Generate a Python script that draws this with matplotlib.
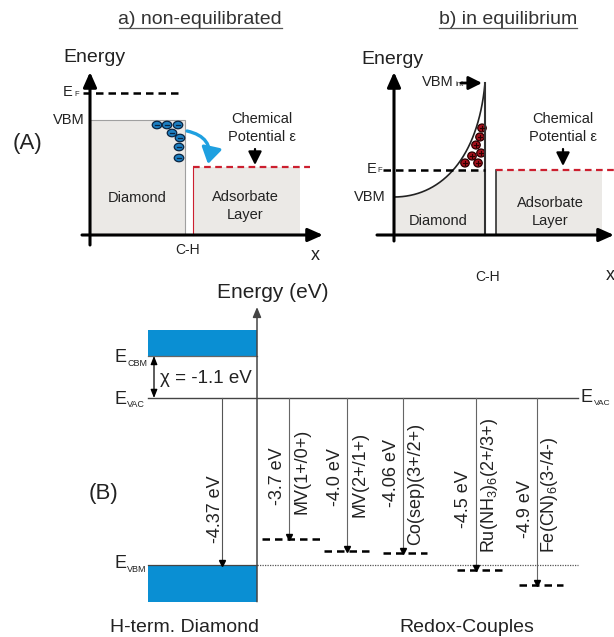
import numpy as np
import matplotlib
matplotlib.use("Agg")
import matplotlib.pyplot as plt
from matplotlib.patches import Rectangle, Ellipse, FancyArrowPatch

plt.rcParams['font.family'] = ['Liberation Sans', 'DejaVu Sans']
plt.rcParams['mathtext.fontset'] = 'custom'
plt.rcParams['mathtext.rm'] = 'Liberation Sans'

# ---- data for panel (B), energies vs vacuum level (eV)
e_vac = 0.0
e_vbm = -4.37
chi = -1.1
e_cbm = -chi
couples = ['MV(1+/0+)', 'MV(2+/1+)', 'Co(sep)(3+/2+)',
           r'Ru(NH$_{3}$)$_{6}$(2+/3+)', r'Fe(CN)$_{6}$(3-/4-)']
redox_ev = [-3.7, -4.0, -4.06, -4.5, -4.9]
redox_labels = ['-3.7 eV', '-4.0 eV', '-4.06 eV', '-4.5 eV', '-4.9 eV']

# ---- schematic carriers for panel (A) (pixel positions)
electrons_x = [157, 167, 178, 172, 180, 179, 179]
electrons_y = [125, 125, 125, 133, 138, 147, 158]
holes_x = [482, 480, 476, 481, 472, 465, 478]
holes_y = [128, 137, 145, 153, 156, 163, 163]

# layout of panel (B)
redox_x = [289, 347, 403, 476, 537]
level_x0 = [262, 324, 383, 457, 519]
level_x1 = [323, 370, 427, 507, 563]
value_bottom = [-2.80, -2.83, -2.85, -3.40, -3.66]
name_bottom = [-3.04, -3.11, -3.85, -4.06, -4.06]

W, H = 614, 637
TXT = '#222222'
GREY = '#ebe9e6'
BLUE = '#0a8fd3'
RED = '#cc1f2f'

fig = plt.figure(figsize=(W / 100, H / 100), dpi=100)
ax = fig.add_axes([0, 0, 1, 1])
ax.set_xlim(0, W)
ax.set_ylim(H, 0)
ax.axis('off')


def arrow(a, x0, y0, x1, y1, lw=2.0, hl=0.9, hw=0.4, color='k'):
    a.annotate('', xy=(x1, y1), xytext=(x0, y0),
               arrowprops=dict(arrowstyle='-|>,head_length=%g,head_width=%g' % (hl, hw),
                               lw=lw, color=color, shrinkA=0, shrinkB=0))


def sub_label(a, x, y, main, sub, size=10.5, subsize=5.5, dx=0, dy=0):
    t = a.text(x, y, main, fontsize=size, color=TXT, ha='right', va='center')
    a.text(x + dx, y + dy, sub, fontsize=subsize, color=TXT, ha='left', va='center')
    return t


# ================= panel (A) =================
ax.text(27, 143, '(A)', fontsize=16, color=TXT, ha='center', va='center')

# titles
ax.text(200, 19, 'a) non-equilibrated', fontsize=14, color='#333333', ha='center', va='center')
ax.plot([119, 282], [28, 28], color='#555555', lw=0.9)
ax.text(508, 19, 'b) in equilibrium', fontsize=14, color='#333333', ha='center', va='center')
ax.plot([439, 577], [28, 28], color='#555555', lw=0.9)

# --- a) non-equilibrated
ax.add_patch(Rectangle((90, 120), 95, 115, fc=GREY, ec='#a0a0a0', lw=0.8))
ax.add_patch(Rectangle((193, 167), 107, 68, fc=GREY, ec='none'))
ax.plot([193, 193], [167, 235], color=RED, lw=0.8)
ax.plot([83, 183], [93, 93], color='k', lw=1.8, dashes=(3, 2))
ax.plot([193, 310], [167, 167], color=RED, lw=1.6, dashes=(3, 2))
arrow(ax, 90, 245, 90, 72, lw=2.2)
arrow(ax, 82, 235, 323, 235, lw=2.2)

for x, y in zip(electrons_x, electrons_y):
    ax.add_patch(Ellipse((x, y), 9.5, 7.5, fc='#1d7fc1', ec='#0b2440', lw=0.9))
    ax.plot([x - 2, x + 2], [y, y], color='#0b2440', lw=0.9)

ax.add_patch(FancyArrowPatch((187, 131), (208, 164), connectionstyle='arc3,rad=-0.5',
                             arrowstyle='-|>,head_length=0.8,head_width=0.5',
                             mutation_scale=12, color='#1fa0e0', lw=2.4, shrinkA=0, shrinkB=0))

ax.text(94, 58, 'Energy', fontsize=14, color=TXT, ha='center', va='center')
sub_label(ax, 73, 92, 'E', 'F', dx=1, dy=2)
ax.text(69, 120, 'VBM', fontsize=10.5, color=TXT, ha='center', va='center')
ax.text(137, 198, 'Diamond', fontsize=10.5, color=TXT, ha='center', va='center')
ax.text(245, 206, 'Adsorbate\nLayer', fontsize=10.5, color=TXT, ha='center', va='center',
        linespacing=1.3)
ax.text(262, 128, 'Chemical\nPotential \u03b5', fontsize=10.5, color=TXT, ha='center',
        va='center', linespacing=1.35)
arrow(ax, 255, 149, 255, 165, lw=1.6, hl=0.8, hw=0.4)
ax.text(188, 250, 'C-H', fontsize=10, color=TXT, ha='center', va='center')
ax.text(315, 255, 'x', fontsize=13, color=TXT, ha='center', va='center')

# --- b) in equilibrium
t = np.linspace(0, 1, 200)
p0, p1, p2, p3 = (394, 197), (440, 197), (478, 160), (485, 83)
cx = (1 - t) ** 3 * p0[0] + 3 * (1 - t) ** 2 * t * p1[0] + 3 * (1 - t) * t ** 2 * p2[0] + t ** 3 * p3[0]
cy = (1 - t) ** 3 * p0[1] + 3 * (1 - t) ** 2 * t * p1[1] + 3 * (1 - t) * t ** 2 * p2[1] + t ** 3 * p3[1]
ax.fill_between(cx, np.maximum(cy, 170), 235, color=GREY, lw=0)
ax.plot(cx, cy, color='#222222', lw=1.2)
ax.plot([485, 485], [83, 235], color='#333333', lw=1.5)
ax.add_patch(Rectangle((496, 170), 106, 65, fc=GREY, ec='none'))
ax.plot([496, 496], [170, 235], color='#333333', lw=1.2)
ax.plot([383, 485], [170, 170], color='k', lw=1.8, dashes=(3, 2))
ax.plot([496, 614], [170, 170], color=RED, lw=1.6, dashes=(3, 2))
arrow(ax, 394, 241, 394, 72, lw=2.2)
arrow(ax, 377, 235, 614, 235, lw=2.2)

for x, y in zip(holes_x, holes_y):
    ax.add_patch(Ellipse((x, y), 8.5, 8, fc='#a3101c', ec='#2a0000', lw=0.9))
    ax.plot([x - 2, x + 2], [y, y], color='#2a0000', lw=0.8)
    ax.plot([x, x], [y - 2, y + 2], color='#2a0000', lw=0.8)

ax.text(392, 60, 'Energy', fontsize=14, color=TXT, ha='center', va='center')
sub_label(ax, 376, 169, 'E', 'F', dx=1, dy=2)
ax.text(370, 197, 'VBM', fontsize=10.5, color=TXT, ha='center', va='center')
sub_label(ax, 454, 82, 'VBM', 'int', dx=1, dy=3)
arrow(ax, 461, 83, 482, 83, lw=2.0, hl=0.8, hw=0.4)
ax.text(438, 221, 'Diamond', fontsize=10.5, color=TXT, ha='center', va='center')
ax.text(550, 212, 'Adsorbate\nLayer', fontsize=10.5, color=TXT, ha='center', va='center',
        linespacing=1.3)
ax.text(563, 128, 'Chemical\nPotential \u03b5', fontsize=10.5, color=TXT, ha='center',
        va='center', linespacing=1.35)
arrow(ax, 563, 149, 563, 166, lw=1.6, hl=0.8, hw=0.4)
ax.text(488, 277, 'C-H', fontsize=10, color=TXT, ha='center', va='center')
ax.text(610, 275, 'x', fontsize=13, color=TXT, ha='center', va='center')

# ================= panel (B) =================
k = (565 - 398) / 4.37          # pixels per eV
axb = fig.add_axes([0, 0, 1, 1])
axb.set_xlim(0, W)
axb.set_ylim((398 - H) / k, 398 / k)
axb.axis('off')
axb.patch.set_alpha(0)

band_thickness_c = 0.68
band_thickness_v = 0.96
axb.add_patch(Rectangle((148, e_cbm), 109, band_thickness_c, fc=BLUE, ec='none'))
axb.add_patch(Rectangle((148, e_vbm - band_thickness_v), 109, band_thickness_v, fc=BLUE, ec='none'))
axb.plot([148, 257], [e_cbm, e_cbm], color='#666666', lw=0.9)
axb.plot([148, 257], [e_vbm, e_vbm], color='#444444', lw=0.9)
axb.plot([257, 578], [e_vbm, e_vbm], color='#555555', lw=0.9, ls=(0, (1, 1)))
axb.plot([148, 578], [e_vac, e_vac], color='#444444', lw=1.0)
arrow(axb, 257, e_vbm - band_thickness_v, 257, 2.38, lw=1.1, hl=0.6, hw=0.25, color='#444444')
axb.text(273, 2.75, 'Energy (eV)', fontsize=15, color=TXT, ha='center', va='center')

# electron affinity
axb.annotate('', xy=(154, e_cbm), xytext=(154, e_vac),
             arrowprops=dict(arrowstyle='<|-|>,head_length=0.5,head_width=0.2', lw=0.9,
                             color='k', shrinkA=0, shrinkB=0))
axb.text(160, 0.52, '\u03c7 = %.1f eV' % chi, fontsize=13.5, color=TXT, ha='left', va='center')

sub_label(axb, 126, 1.05, 'E', 'CBM', size=13, subsize=6.5, dx=1, dy=-0.15)
sub_label(axb, 126, -0.03, 'E', 'VAC', size=13, subsize=6.5, dx=1, dy=-0.15)
sub_label(axb, 126, -4.33, 'E', 'VBM', size=13, subsize=6.5, dx=1, dy=-0.15)
axb.text(580, 0.0, 'E', fontsize=13, color=TXT, ha='left', va='center')
axb.text(594, -0.15, 'VAC', fontsize=6, color=TXT, ha='left', va='center')

# work function of diamond
axb.plot([222, 222], [e_vac, e_vbm + 0.08], color='#555555', lw=0.8)
axb.plot(222, e_vbm + 0.06, marker='v', ms=4, color='k')
axb.text(215, -3.79, '%.2f eV' % e_vbm, rotation=90, fontsize=13, color=TXT,
         ha='center', va='bottom')

for name, e, lab, x, x0, x1, vb, nb in zip(couples, redox_ev, redox_labels, redox_x,
                                           level_x0, level_x1, value_bottom, name_bottom):
    axb.plot([x, x], [e_vac, e + 0.08], color='#666666', lw=0.8)
    axb.plot(x, e + 0.06, marker='v', ms=4, color='k')
    axb.plot([x0, x1], [e, e], color='k', lw=1.8, dashes=(3, 2))
    axb.text(x - 12, vb, lab, rotation=90, fontsize=13, color=TXT, ha='center', va='bottom')
    axb.text(x + 13, nb, name, rotation=90, fontsize=13, color=TXT, ha='center', va='bottom')

axb.text(103, -2.49, '(B)', fontsize=16, color=TXT, ha='center', va='center')
axb.text(184, (398 - 628) / k, 'H-term. Diamond', fontsize=14, color=TXT, ha='center', va='center')
axb.text(467, (398 - 628) / k, 'Redox-Couples', fontsize=14, color=TXT, ha='center', va='center')

fig.savefig('out.png', dpi=100)
